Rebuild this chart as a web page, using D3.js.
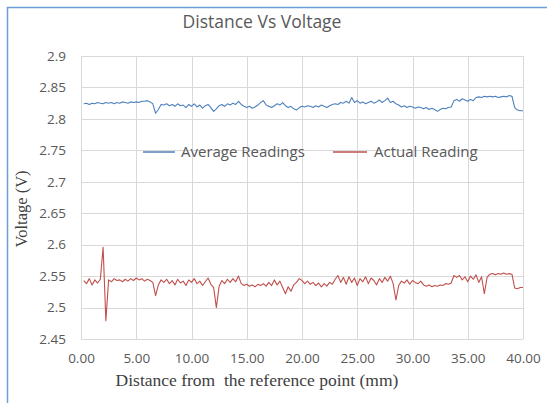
<!DOCTYPE html>
<html>
<head>
<meta charset="utf-8">
<script src="https://cdn.jsdelivr.net/npm/d3@7/dist/d3.min.js"></script>
<style>
  html, body { margin: 0; padding: 0; background: #fff; }
  svg { display: block; }
</style>
</head>
<body>
<svg id="chart" width="547" height="403"></svg>
<script>
// ---- data ----
const title = "Distance Vs Voltage";
const xTitle = "Distance from  the reference point (mm)";
const yTitle = "Voltage (V)";
const seriesNames = ["Average Readings", "Actual Reading"];
const xTicks = [0, 5, 10, 15, 20, 25, 30, 35, 40];
const yTicks = [2.45, 2.5, 2.55, 2.6, 2.65, 2.7, 2.75, 2.8, 2.85, 2.9];
const step = 0.25; // spacing of readings (mm)

const averageReadings = [
  2.824,2.825,2.823,2.825,2.824,2.826,2.825,2.824,2.826,2.825,
  2.826,2.824,2.826,2.825,2.827,2.826,2.825,2.827,2.826,2.827,
  2.826,2.828,2.828,2.829,2.827,2.824,2.809,2.815,2.823,2.822,
  2.824,2.821,2.823,2.820,2.824,2.821,2.822,2.818,2.823,2.820,
  2.824,2.819,2.822,2.817,2.821,2.823,2.818,2.812,2.816,2.821,
  2.823,2.820,2.824,2.822,2.825,2.823,2.828,2.823,2.820,2.818,
  2.820,2.817,2.819,2.822,2.826,2.829,2.822,2.820,2.818,2.821,
  2.824,2.822,2.826,2.821,2.818,2.820,2.816,2.814,2.818,2.820,
  2.819,2.821,2.820,2.818,2.821,2.819,2.822,2.820,2.818,2.821,
  2.823,2.824,2.823,2.826,2.825,2.828,2.825,2.834,2.826,2.829,
  2.825,2.827,2.824,2.826,2.828,2.825,2.827,2.830,2.826,2.829,
  2.833,2.826,2.828,2.824,2.822,2.819,2.821,2.818,2.820,2.819,
  2.817,2.819,2.818,2.816,2.818,2.815,2.817,2.815,2.812,2.815,
  2.817,2.816,2.818,2.819,2.829,2.831,2.828,2.832,2.830,2.828,
  2.831,2.829,2.834,2.835,2.834,2.836,2.835,2.836,2.835,2.836,
  2.834,2.835,2.836,2.835,2.837,2.836,2.818,2.814,2.813,2.813
];
const actualReading = [
  2.543,2.538,2.546,2.536,2.544,2.539,2.545,2.596,2.479,2.544,
  2.541,2.546,2.543,2.544,2.541,2.545,2.542,2.546,2.543,2.547,
  2.544,2.546,2.542,2.545,2.543,2.540,2.519,2.536,2.544,2.540,
  2.545,2.538,2.543,2.536,2.545,2.539,2.542,2.535,2.544,2.540,
  2.546,2.538,2.542,2.535,2.541,2.547,2.537,2.532,2.500,2.534,
  2.543,2.538,2.545,2.540,2.546,2.541,2.550,2.538,2.535,2.537,
  2.534,2.536,2.533,2.537,2.535,2.538,2.534,2.540,2.535,2.544,
  2.536,2.542,2.532,2.522,2.533,2.526,2.536,2.540,2.546,2.543,
  2.538,2.542,2.537,2.540,2.535,2.539,2.533,2.538,2.534,2.540,
  2.537,2.545,2.551,2.540,2.548,2.537,2.549,2.540,2.547,2.535,
  2.546,2.541,2.549,2.538,2.547,2.543,2.536,2.546,2.540,2.548,
  2.542,2.550,2.538,2.512,2.535,2.542,2.539,2.544,2.537,2.543,
  2.540,2.538,2.542,2.536,2.534,2.536,2.533,2.535,2.534,2.536,
  2.535,2.538,2.537,2.539,2.551,2.548,2.551,2.544,2.549,2.541,
  2.550,2.545,2.552,2.540,2.549,2.522,2.548,2.553,2.554,2.552,
  2.554,2.553,2.555,2.553,2.554,2.553,2.531,2.530,2.532,2.532
];
const seriesColors = ["#4f81bd", "#c0504d"];

// ---- layout ----
const svg = d3.select("#chart");
const plot = { left: 81, right: 523, top: 56, bottom: 339 };

const x = d3.scaleLinear().domain([0, 40]).range([plot.left, plot.right]);
const y = d3.scaleLinear().domain([2.45, 2.9]).range([plot.bottom, plot.top]);

// chart border
svg.append("rect")
  .attr("x", 7.5).attr("y", 7.5).attr("width", 600).attr("height", 500)
  .attr("fill", "#fff").attr("stroke", "#6a9fd8").attr("stroke-width", 1.5);

// grid
const grid = svg.append("g");
grid.selectAll("line.h").data(yTicks).enter().append("line")
  .attr("x1", plot.left).attr("x2", plot.right)
  .attr("y1", d => Math.round(y(d)) + 0.5).attr("y2", d => Math.round(y(d)) + 0.5)
  .attr("stroke", "#d9d9d9").attr("stroke-width", 1);
grid.selectAll("line.v").data(xTicks).enter().append("line")
  .attr("y1", plot.top).attr("y2", plot.bottom)
  .attr("x1", d => Math.round(x(d)) + 0.5).attr("x2", d => Math.round(x(d)) + 0.5)
  .attr("stroke", "#d9d9d9").attr("stroke-width", 1);

// axes (labels only)
const tickFont = "'Open Sans', sans-serif";
const xAxis = d3.axisBottom(x).tickValues(xTicks).tickFormat(d3.format(".2f")).tickSize(0).tickPadding(0);
const gx = svg.append("g").attr("transform", `translate(0,${plot.bottom + 14})`).call(xAxis);
gx.select(".domain").remove();
gx.selectAll("text").attr("fill", "#595959").style("font-family", tickFont).style("font-size", "13.5px").attr("dy", "0.71em");

const yAxis = d3.axisLeft(y).tickValues(yTicks).tickFormat(d => d3.format("")(+d.toFixed(2))).tickSize(0).tickPadding(0);
const gy = svg.append("g").attr("transform", `translate(${plot.left - 15},0)`).call(yAxis);
gy.select(".domain").remove();
gy.selectAll("text").attr("fill", "#595959").style("font-family", tickFont).style("font-size", "13.5px");

// lines
const allSeries = [averageReadings, actualReading];
const line = d3.line().x((d, i) => x(step * (i + 1))).y(d => y(d));
allSeries.forEach((vals, k) => {
  svg.append("path").datum(vals)
    .attr("d", line)
    .attr("fill", "none")
    .attr("stroke", seriesColors[k])
    .attr("stroke-width", 1.1)
    .attr("stroke-linejoin", "round");
});

// legend
const legendItems = [
  { name: seriesNames[0], color: seriesColors[0], x1: 143, x2: 175, tx: 181 },
  { name: seriesNames[1], color: seriesColors[1], x1: 333, x2: 367, tx: 374 }
];
const ly = 152;
legendItems.forEach(it => {
  svg.append("line").attr("x1", it.x1).attr("x2", it.x2).attr("y1", ly).attr("y2", ly)
    .attr("stroke", it.color).attr("stroke-width", 1.5);
  svg.append("text").attr("x", it.tx).attr("y", ly).attr("dy", "0.35em")
    .attr("fill", "#595959").style("font-family", tickFont).style("font-size", "15px")
    .text(it.name);
});

// title
svg.append("text").attr("x", 262).attr("y", 28).attr("text-anchor", "middle")
  .attr("fill", "#595959").style("font-family", tickFont).style("font-size", "17.5px")
  .text(title);

// axis titles
svg.append("text").attr("x", 257).attr("y", 386).attr("text-anchor", "middle")
  .attr("fill", "#404040").style("font-family", "'Liberation Serif', serif").style("font-size", "17.5px")
  .style("white-space", "pre")
  .text(xTitle);
svg.append("text").attr("transform", "translate(27,209) rotate(-90)").attr("text-anchor", "middle")
  .attr("fill", "#404040").style("font-family", "'Liberation Serif', serif").style("font-size", "16.5px")
  .text(yTitle);
</script>
</body>
</html>
